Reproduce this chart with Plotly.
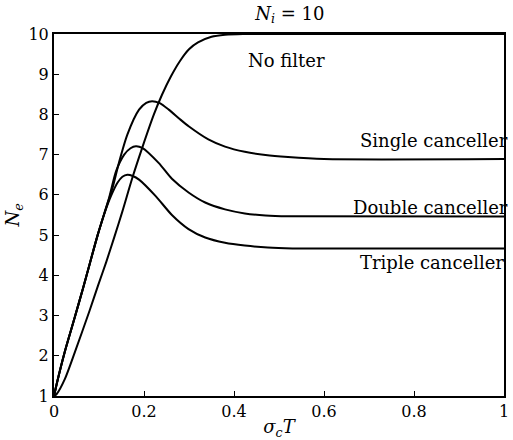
import plotly.graph_objects as go

# ---- data ----
nf_x = [0, 0.006, 0.024, 0.046, 0.079, 0.098, 0.116, 0.134, 0.152, 0.174, 0.196, 0.222, 0.240, 0.260, 0.280, 0.300, 0.320, 0.350, 0.38, 0.42, 0.5, 1.0]
nf_y = [1, 1.05, 1.42, 2.08, 3.12, 3.75, 4.33, 4.95, 5.59, 6.42, 7.17, 8.0, 8.49, 8.95, 9.33, 9.62, 9.79, 9.93, 9.98, 10, 10, 10]

sc_x = [0, 0.006, 0.024, 0.046, 0.065, 0.079, 0.097, 0.116, 0.130, 0.145, 0.163, 0.189, 0.205, 0.218, 0.235, 0.255, 0.280, 0.300, 0.343, 0.380, 0.424, 0.47, 0.52, 0.6, 1.0]
sc_y = [1, 1.30, 2.10, 2.95, 3.70, 4.27, 5.0, 5.68, 6.17, 6.83, 7.50, 8.12, 8.29, 8.33, 8.28, 8.12, 7.88, 7.70, 7.38, 7.20, 7.07, 6.99, 6.94, 6.89, 6.89]

dc_x = [0, 0.006, 0.024, 0.046, 0.065, 0.079, 0.097, 0.112, 0.123, 0.138, 0.156, 0.170, 0.182, 0.196, 0.233, 0.262, 0.299, 0.336, 0.380, 0.424, 0.47, 0.52, 1.0]
dc_y = [1, 1.30, 2.10, 2.95, 3.70, 4.27, 5.0, 5.55, 5.95, 6.59, 7.0, 7.16, 7.21, 7.17, 6.79, 6.40, 6.06, 5.81, 5.64, 5.54, 5.49, 5.47, 5.46]

tc_x = [0, 0.006, 0.024, 0.046, 0.065, 0.079, 0.097, 0.114, 0.127, 0.141, 0.152, 0.163, 0.175, 0.189, 0.226, 0.262, 0.299, 0.336, 0.380, 0.424, 0.475, 0.53, 1.0]
tc_y = [1, 1.30, 2.10, 2.95, 3.70, 4.27, 5.0, 5.60, 5.98, 6.30, 6.45, 6.50, 6.47, 6.38, 5.97, 5.50, 5.15, 4.94, 4.81, 4.74, 4.69, 4.67, 4.67]

series = [
    ("No filter", nf_x, nf_y),
    ("Single canceller", sc_x, sc_y),
    ("Double canceller", dc_x, dc_y),
    ("Triple canceller", tc_x, tc_y),
]

labels = ["No filter", "Single canceller", "Double canceller", "Triple canceller"]
label_x = [0.516, 1.0, 1.0, 0.99]
label_y = [9.33, 7.35, 5.69, 4.32]

x_ticks = [0, 0.2, 0.4, 0.6, 0.8, 1]
x_tick_text = ["0", "0.2", "0.4", "0.6", "0.8", "1"]
y_ticks = [1, 2, 3, 4, 5, 6, 7, 8, 9, 10]

FONT = "DejaVu Serif"

fig = go.Figure()
for name, xs, ys in series:
    fig.add_trace(go.Scatter(
        x=xs, y=ys, mode="lines", name=name,
        line=dict(color="black", width=2, shape="spline", smoothing=0.7),
        showlegend=False, cliponaxis=True,
    ))

for i, (t, lx, ly) in enumerate(zip(labels, label_x, label_y)):
    fig.add_annotation(
        x=lx, y=ly, xref="x", yref="y", text=t, showarrow=False,
        xanchor="center" if i == 0 else "right", yanchor="middle",
        xshift=0 if i == 0 else 6,
        font=dict(family=FONT, size=18, color="black"),
    )

fig.update_layout(
    width=513, height=440,
    margin=dict(l=54, r=4, t=34, b=43),
    paper_bgcolor="white", plot_bgcolor="white",
    title=dict(text="<i>N<sub>i</sub></i> = 10", x=0.565, xanchor="center",
               y=0.97, yanchor="middle",
               font=dict(family=FONT, size=18, color="black")),
    font=dict(family=FONT, color="black"),
)

fig.update_xaxes(
    range=[0, 1], tickvals=x_ticks, ticktext=x_tick_text,
    ticks="inside", ticklen=5, tickwidth=1, tickcolor="black",
    showline=True, linecolor="black", linewidth=2, mirror=True,
    showgrid=False, zeroline=False,
    tickfont=dict(family=FONT, size=16, color="black"),
    title=dict(text="<i>σ<sub>c</sub>T</i>", font=dict(family=FONT, size=18, color="black"), standoff=2),
)
fig.update_yaxes(
    range=[1, 10], tickvals=y_ticks,
    ticks="inside", ticklen=5, tickwidth=1, tickcolor="black",
    showline=True, linecolor="black", linewidth=2, mirror=True,
    showgrid=False, zeroline=False,
    tickfont=dict(family=FONT, size=16, color="black"),
    title=dict(text="<i>N<sub>e</sub></i>", font=dict(family=FONT, size=18, color="black"), standoff=4),
)

fig.write_html("out.html")
